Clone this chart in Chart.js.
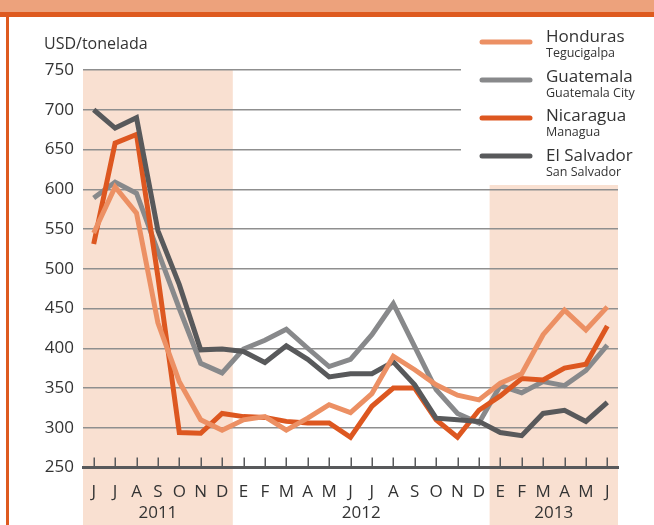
<!DOCTYPE html>
<html>
<head>
    <title>USD/tonelada</title>
    <script src="https://cdn.jsdelivr.net/npm/chart.js"></script>
    <style>
        body { margin: 0; background: #fff; }
    </style>
</head>
<body>
    <canvas id="myChart" width="654" height="525"></canvas>
    <script>
        var months = ['J','J','A','S','O','N','D','E','F','M','A','M','J','J','A','S','O','N','D','E','F','M','A','M','J'];
        var yearLabels = ['2011', '2012', '2013'];
        var yearFirst = [0, 7, 19];
        var yearLast = [6, 18, 24];

        var honduras   = [545,603,570,432,358,310,297,310,314,297,312,329,319,343,390,373,354,341,335,356,368,417,448,423,452];
        var guatemala  = [589,609,595,522,450,381,369,399,410,424,400,377,386,417,456,402,348,318,306,353,344,358,353,372,404];
        var nicaragua  = [531,658,669,490,294,293,318,314,313,308,306,306,288,327,350,350,310,288,322,340,362,360,375,380,428];
        var elSalvador = [700,677,690,548,480,398,399,396,382,403,386,364,368,368,383,354,312,310,308,294,290,318,322,308,332];

        var seriesNames = ['Honduras', 'Guatemala', 'Nicaragua', 'El Salvador'];
        var cityNames = ['Tegucigalpa', 'Guatemala City', 'Managua', 'San Salvador'];
        var colors = ['#EC9064', '#88898B', '#DD5720', '#58595B'];

        var FONT = "'Open Sans', sans-serif";
        var TEXT = '#333333';

        var decor = {
            id: 'decor',
            beforeDraw: function(chart) {
                var c = chart.ctx, x = chart.scales.x, a = chart.chartArea;
                c.save();
                c.fillStyle = '#fff';
                c.fillRect(0, 0, chart.width, chart.height);
                // frame
                c.fillStyle = '#EDA27C';
                c.fillRect(0, 0, chart.width, 12);
                c.fillStyle = '#DE5A1F';
                c.fillRect(0, 12, chart.width, 5);
                c.fillRect(6, 12, 3, chart.height - 12);
                // year shading
                var step = x.getPixelForValue(1) - x.getPixelForValue(0);
                c.fillStyle = '#F9E0D1';
                var l1 = x.getPixelForValue(yearFirst[0]) - step / 2;
                var r1 = x.getPixelForValue(yearLast[0]) + step / 2;
                c.fillRect(l1, a.top, r1 - l1, chart.height - a.top);
                var l3 = x.getPixelForValue(yearFirst[2]) - step / 2;
                var r3 = x.getPixelForValue(yearLast[2]) + step / 2;
                c.fillRect(l3, 185, r3 - l3, chart.height - 185);
                // unit
                c.fillStyle = TEXT;
                c.font = '16px ' + FONT;
                c.textBaseline = 'middle';
                c.fillText('USD/tonelada', 44, 44);
                c.restore();
            },
            afterDraw: function(chart) {
                var c = chart.ctx, x = chart.scales.x, a = chart.chartArea;
                c.save();
                // tick marks above axis
                c.strokeStyle = '#58595B';
                c.lineWidth = 1.5;
                for (var i = 0; i < months.length; i++) {
                    var px = Math.round(x.getPixelForValue(i)) + 0.25;
                    c.beginPath();
                    c.moveTo(px, a.bottom - 10);
                    c.lineTo(px, a.bottom);
                    c.stroke();
                }
                // years
                c.fillStyle = TEXT;
                c.font = '17px ' + FONT;
                c.textAlign = 'center';
                c.textBaseline = 'middle';
                for (var j = 0; j < yearLabels.length; j++) {
                    var mid = (x.getPixelForValue(yearFirst[j]) + x.getPixelForValue(yearLast[j])) / 2;
                    c.fillText(yearLabels[j], mid, 513);
                }
                // legend
                c.fillStyle = '#fff';
                c.fillRect(461, 19, 175, 164);
                c.textAlign = 'left';
                c.textBaseline = 'alphabetic';
                c.lineCap = 'round';
                chart.data.datasets.forEach(function(ds, k) {
                    var yy = 42 + k * 38;
                    c.strokeStyle = ds.borderColor;
                    c.lineWidth = 5;
                    c.beginPath();
                    c.moveTo(482, yy);
                    c.lineTo(530, yy);
                    c.stroke();
                    var ty = 42 + k * 39.5;
                    c.fillStyle = TEXT;
                    c.font = '17px ' + FONT;
                    c.fillText(ds.label, 546, ty);
                    c.font = '12.5px ' + FONT;
                    c.fillText(cityNames[k], 546, ty + 15);
                });
                c.restore();
            }
        };

        var seriesData = [honduras, guatemala, nicaragua, elSalvador];
        var datasets = seriesData.map(function(d, k) {
            return {
                label: seriesNames[k],
                data: d,
                borderColor: colors[k],
                backgroundColor: colors[k],
                borderWidth: 5,
                pointRadius: 0,
                tension: 0,
                fill: false,
                order: k === 0 ? 0 : 4 - k
            };
        });

        var ctx = document.getElementById('myChart').getContext('2d');
        var chart = new Chart(ctx, {
            type: 'line',
            data: { labels: months, datasets: datasets },
            options: {
                responsive: false,
                animation: false,
                layout: { padding: { top: 70, right: 36, left: 0, bottom: 0 } },
                plugins: { legend: { display: false }, tooltip: { enabled: false } },
                scales: {
                    x: {
                        offset: true,
                        afterFit: function(s) { s.height = 57.5; },
                        grid: { display: false, drawTicks: false },
                        border: { display: true, color: '#58595B', width: 3 },
                        ticks: { color: TEXT, font: { family: FONT, size: 17 }, padding: 14, autoSkip: false, maxRotation: 0 }
                    },
                    y: {
                        min: 250,
                        max: 750,
                        afterFit: function(s) { s.width = 83; },
                        grid: { color: '#8F8F8F', lineWidth: 1.5, drawTicks: false },
                        border: { display: false },
                        ticks: { stepSize: 50, color: TEXT, font: { family: FONT, size: 17 }, padding: 9 }
                    }
                }
            },
            plugins: [decor]
        });
    </script>
</body>
</html>
